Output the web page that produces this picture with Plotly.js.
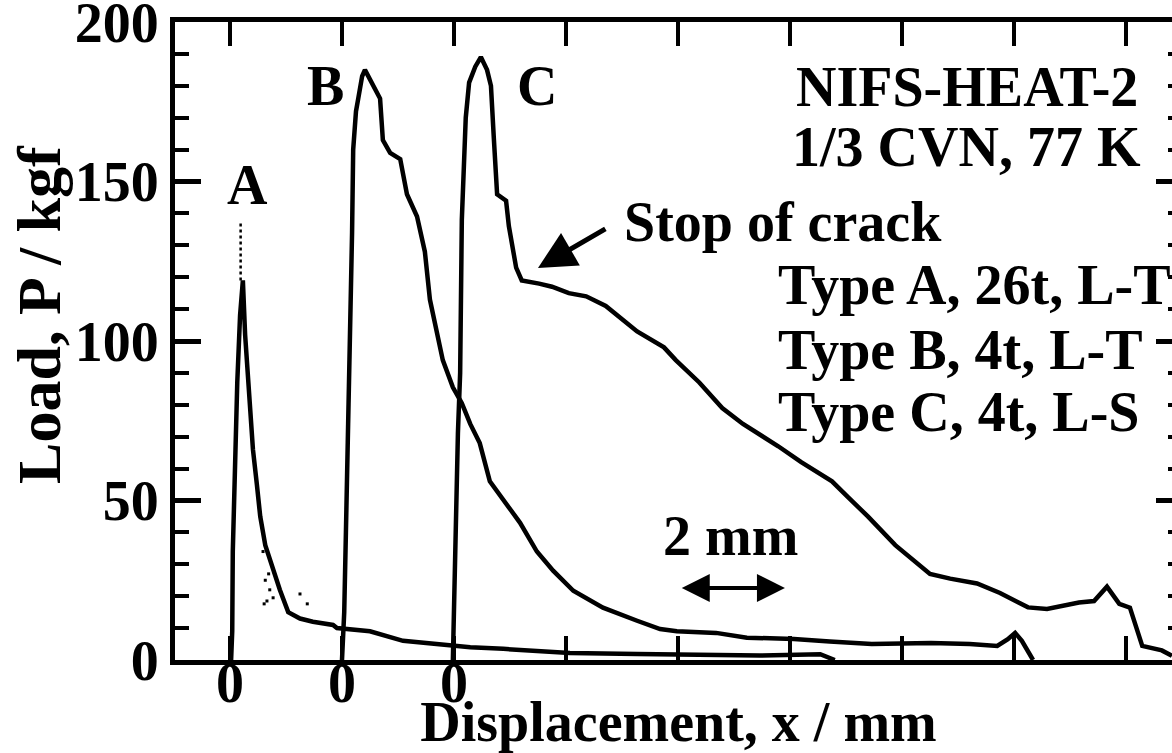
<!DOCTYPE html>
<html>
<head>
<meta charset="utf-8">
<script src="https://cdn.plot.ly/plotly-3.0.1.min.js"></script>
<style>
  html, body { margin: 0; padding: 0; background: #fff; overflow: hidden; }
  #chart { width: 1190px; height: 753px; }
</style>
</head>
<body>
<div id="chart"></div>
<script>
// ---- Data (displacement in mm relative to each curve's own zero, load in kgf) ----
const dispA = [0.02, 0.04, 0.05, 0.09, 0.13, 0.18, 0.23, 0.27, 0.36, 0.41, 0.48, 0.54, 0.63, 0.75, 0.89, 1.04, 1.25, 1.48, 1.84, 1.91, 2.50, 3.09, 3.70, 4.29, 4.88, 5.48, 6.07, 7.27, 8.39, 9.46, 10.54, 10.80];
const loadA = [0, 9, 34, 66, 87, 108, 119, 102, 81, 66, 55, 45, 36, 29, 22, 15, 13, 12, 11, 10, 9, 6, 5, 4, 3.5, 2.8, 2.2, 1.9, 1.6, 1.4, 1.8, 0];
const spikeDispA = [0.19, 0.19];
const spikeLoadA = [119, 137];
const noiseDispA = [0.59, 0.63, 0.66, 0.71, 0.77, 1.25, 1.38, 0.61, 0.69];
const noiseLoadA = [34, 25, 18.5, 22, 19.5, 20.7, 17.6, 17.6, 27];

const dispB = [0, 0.04, 0.07, 0.11, 0.14, 0.18, 0.20, 0.25, 0.29, 0.36, 0.41, 0.50, 0.59, 0.68, 0.73, 0.86, 1.04, 1.16, 1.34, 1.48, 1.57, 1.70, 1.80, 1.98, 2.14, 2.29, 2.46, 2.64, 2.88, 3.18, 3.48, 3.77, 4.13, 4.66, 5.27, 5.68, 5.98, 6.68, 7.23, 8.07, 8.71, 9.46, 10.52, 11.21, 11.70, 11.89, 12.02, 12.14, 12.34];
const loadB = [0, 15, 40, 70, 102, 134, 160, 172, 176, 183, 185, 182, 179, 176, 163, 159, 157, 146, 139, 128, 113, 102.5, 94, 85.5, 80.5, 74, 68, 56, 50, 43, 34, 28, 21.7, 16.4, 12.3, 9.7, 9, 8.5, 7, 6.6, 5.8, 5, 5.3, 5, 4.4, 6.5, 8.5, 6, 0];

const dispC = [-0.02, 0, 0.02, 0.05, 0.07, 0.11, 0.125, 0.14, 0.21, 0.27, 0.38, 0.48, 0.59, 0.66, 0.71, 0.77, 0.93, 0.98, 1.11, 1.21, 1.52, 1.75, 2.05, 2.36, 2.71, 3.27, 3.75, 3.96, 4.38, 4.79, 5.16, 5.79, 6.20, 6.75, 7.04, 7.39, 7.88, 8.16, 8.50, 8.86, 9.34, 9.75, 10.25, 10.59, 11.16, 11.43, 11.66, 11.88, 12.07, 12.29, 12.64, 12.82];
const loadC = [0, 20, 32, 50, 71, 90, 110, 138, 170, 181, 186, 189, 185, 180, 164, 146, 144, 136, 123, 119, 118, 117, 115, 114, 111, 103, 98, 94, 87, 79, 74, 67, 62, 56, 51, 45, 36, 32, 27, 25.5, 24, 21, 16.5, 16, 18, 18.5, 23, 17.6, 16.4, 4.4, 3, 1.3];

const offsetA = 0;   // mm shift of curve A origin
const offsetB = 2;   // mm shift of curve B origin
const offsetC = 4;   // mm shift of curve C origin

const xTickVals = [0, 2, 4, 6, 8, 10, 12, 14, 16];
const xTickText = ['0', '0', '0', '', '', '', '', '', ''];
const yTickVals = [0, 50, 100, 150, 200];
const yTickText = ['0', '50', '100', '150', '200'];

const shift = (arr, off) => arr.map(v => v + off);

const lineStyle = { color: 'black', width: 4.5 };

const traces = [
  { x: shift(dispA, offsetA), y: loadA, mode: 'lines', line: lineStyle, name: 'A', hoverinfo: 'skip' },
  { x: shift(spikeDispA, offsetA), y: spikeLoadA, mode: 'lines', line: { color: 'black', width: 2.5, dash: 'dot' }, name: 'A spike', hoverinfo: 'skip' },
  { x: shift(noiseDispA, offsetA), y: noiseLoadA, mode: 'markers', marker: { color: 'black', size: 3, symbol: 'square' }, name: 'A noise', hoverinfo: 'skip' },
  { x: shift(dispB, offsetB), y: loadB, mode: 'lines', line: lineStyle, name: 'B', hoverinfo: 'skip' },
  { x: shift(dispC, offsetC), y: loadC, mode: 'lines', line: lineStyle, name: 'C', hoverinfo: 'skip' }
];

const fam = 'Liberation Serif, "Times New Roman", serif';
const font = { family: fam, size: 56, color: 'black', weight: 'bold' };

const layout = {
  width: 1190,
  height: 753,
  margin: { l: 175, r: 8, t: 22, b: 93 },
  paper_bgcolor: 'white',
  plot_bgcolor: 'white',
  showlegend: false,
  font: font,
  xaxis: {
    range: [-0.982, 17.0],
    tickmode: 'array',
    tickvals: xTickVals,
    ticktext: xTickText,
    ticks: 'inside',
    ticklen: 24,
    tickwidth: 4,
    tickcolor: 'black',
    ticklabelstandoff: -30,
    showline: true,
    linewidth: 5,
    linecolor: 'black',
    mirror: 'ticks',
    showgrid: false,
    zeroline: false,
    tickfont: { family: fam, size: 56, weight: 'bold', color: 'black' },
    title: { text: 'Displacement, x / mm', font: { family: fam, size: 56, weight: 'bold', color: 'black' }, standoff: 30 }
  },
  yaxis: {
    range: [0, 200],
    tickmode: 'array',
    tickvals: yTickVals,
    ticktext: yTickText,
    ticks: 'inside',
    ticklen: 26,
    tickwidth: 5,
    tickcolor: 'black',
    ticklabeloverflow: 'allow',
    minor: { dtick: 10, ticks: 'inside', ticklen: 14, tickwidth: 4, tickcolor: 'black', showgrid: false },
    showline: true,
    linewidth: 5,
    linecolor: 'black',
    mirror: 'ticks',
    showgrid: false,
    zeroline: false,
    tickfont: { family: fam, size: 56, weight: 'bold', color: 'black' }
  },
  annotations: [
    { xref: 'paper', yref: 'paper', x: -0.135, y: 0.541, text: 'Load, P / kgf', textangle: -90, showarrow: false, xanchor: 'center', yanchor: 'middle', font: { family: fam, size: 62, weight: 'bold', color: 'black' } },
    { x: 0.32, y: 149, text: 'A', showarrow: false },
    { x: 1.70, y: 180, text: 'B', showarrow: false },
    { x: 5.48, y: 180, text: 'C', showarrow: false },
    { x: 16.25, y: 179.6, text: 'NIFS-HEAT-2', showarrow: false, xanchor: 'right' },
    { x: 16.30, y: 160.7, text: '1/3 CVN, 77 K', showarrow: false, xanchor: 'right' },
    { x: 7.0, y: 137.4, text: 'Stop of crack', showarrow: false, xanchor: 'left' },
    { x: 9.75, y: 117.6, text: 'Type A, 26t, L-T', showarrow: false, xanchor: 'left' },
    { x: 9.75, y: 97.2, text: 'Type B, 4t, L-T', showarrow: false, xanchor: 'left' },
    { x: 9.75, y: 77.7, text: 'Type C, 4t, L-S', showarrow: false, xanchor: 'left' },
    { x: 8.93, y: 39, text: '2 mm', showarrow: false },
    { x: 5.5, y: 122.9, ax: 6.73, ay: 135.4, axref: 'x', ayref: 'y', text: '', showarrow: true, arrowhead: 2, arrowwidth: 5, arrowsize: 1.5, arrowcolor: 'black' },
    { x: 9.91, y: 22.6, ax: 8.04, ay: 22.6, axref: 'x', ayref: 'y', text: '', showarrow: true, arrowside: 'end+start', arrowhead: 2, startarrowhead: 2, arrowwidth: 4, arrowsize: 1.4, startarrowsize: 1.4, arrowcolor: 'black' }
  ]
};

Plotly.newPlot('chart', traces, layout, { staticPlot: true, displayModeBar: false });
</script>
</body>
</html>
